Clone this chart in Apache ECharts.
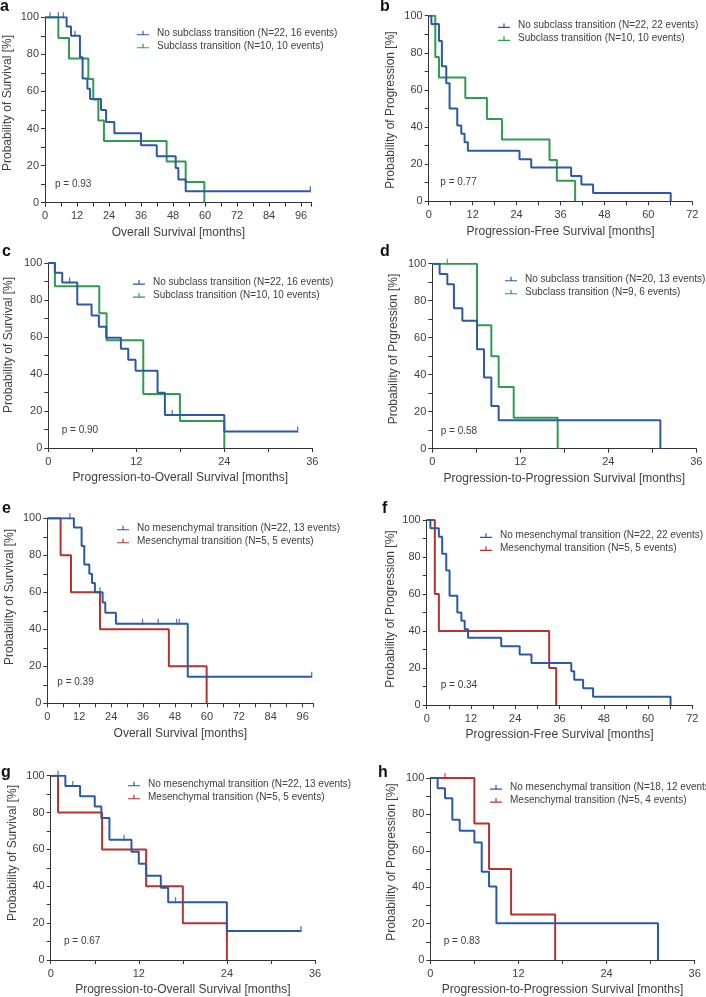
<!DOCTYPE html>
<html><head><meta charset="utf-8">
<script src="https://cdn.jsdelivr.net/npm/echarts@6/dist/echarts.min.js"></script>
<style>html,body{margin:0;padding:0;background:#fff}#c{width:706px;height:997px}</style>
</head><body><div id="c"></div>
<script>
// ---------- data (months, survival %) ----------
// panel a
const aNoT = [0, 8.1, 9.75, 13.1, 14.1, 15.9, 16.9, 21, 22.9, 26, 36, 41.9, 49, 50, 52.75, 99.5];
const aNoS = [100, 95, 90, 78.5, 67, 61.5, 56, 50, 43.5, 37.4, 31, 25, 18.7, 12.5, 6.2, 6.2];
const aNoC = [1.9, 5, 6.9, 11.25, 99.5];
const aSubT = [0, 5, 9, 16.25, 18.1, 20, 22.1, 45.6, 52.75, 59.75];
const aSubS = [100, 88.9, 77.8, 66.7, 55.6, 44.4, 33.3, 22.2, 11.1, 0];
const aSubC = [];
// panel b
const bNoT = [0, 0.73, 2.8, 3.6, 4.8, 5.7, 7.8, 8.9, 9.8, 10.7, 24.8, 28, 38.9, 41.7, 44.9, 66.1];
const bNoS = [100, 95.5, 86.4, 72.7, 63.6, 50, 40.9, 36.4, 31.8, 27.3, 22.7, 18.2, 13.6, 9.1, 4.5, 0];
const bNoC = [];
const bSubT = [0, 1.8, 2.8, 10, 15.9, 20, 33, 35, 40];
const bSubS = [100, 77.8, 66.7, 55.6, 44.4, 33.3, 22.2, 11.1, 0];
const bSubC = [];
// panel c
const cNoT = [0, 0.9, 1.9, 3.95, 5.9, 6.9, 7.9, 9.9, 10.9, 11.9, 14.9, 15.9, 24, 34];
const cNoS = [100, 94.7, 89.5, 77.6, 71.6, 65.6, 59.6, 53.6, 47.7, 41.7, 29.8, 17.9, 8.9, 8.9];
const cNoC = [2.9, 16.9, 34];
const cSubT = [0, 0.9, 6.95, 7.95, 12.95, 17.95, 24];
const cSubS = [100, 87.5, 72.9, 58.3, 29.2, 14.6, 0];
const cSubC = [];
// panel d
const dNoT = [0, 1.0, 2.05, 2.95, 4.1, 6.1, 7.05, 8.05, 9.05, 31.1];
const dNoS = [100, 94.4, 88.9, 75.9, 69.2, 53.8, 38.5, 23.1, 15.4, 0];
const dNoC = [];
const dSubT = [0, 6.1, 8.05, 9.05, 11.1, 17.1];
const dSubS = [100, 66.7, 50, 33.3, 16.7, 0];
const dSubC = [2.05];
// panel e
const eNoT = [0, 10, 12.9, 13.9, 15.8, 16.8, 17.9, 20.8, 21.8, 25.8, 52.8, 99.4];
const eNoS = [100, 95, 85, 75, 70, 65, 60, 54.5, 49, 43, 14.3, 14.3];
const eNoC = [8.5, 19.8, 35.8, 41.7, 48.6, 49.6, 99.4];
const eMesT = [0, 5, 8.9, 19.8, 45.7, 59.9];
const eMesS = [100, 80, 60, 40, 20, 0];
const eMesC = [];
// panel f
const fNoT = [0, 1.0, 3.3, 4.2, 5.3, 6.2, 8.3, 9.4, 10.3, 11.2, 20.2, 25.2, 28.4, 39.2, 40, 42.4, 45.1, 66.1];
const fNoS = [100, 95.5, 90.9, 81.8, 72.7, 59.1, 50, 45.5, 40.9, 36.4, 31.8, 27.3, 22.7, 18.2, 13.6, 9.1, 4.5, 0];
const fNoC = [];
const fMesT = [0, 2.2, 3.3, 33.2, 35.1];
const fMesS = [100, 60, 40, 20, 0];
const fMesC = [];
// panel g
const gNoT = [0, 2.0, 4.0, 6.0, 6.9, 8.0, 11.0, 12.0, 13.0, 15.0, 16.0, 24.0, 34.1];
const gNoS = [100, 94.4, 88.9, 83.3, 77.1, 65.3, 58.7, 52.2, 45.7, 39.2, 31.4, 15.7, 15.7];
const gNoC = [1.0, 3.0, 10.0, 17.0, 34.1];
const gMesT = [0, 1.0, 7.0, 13.0, 18.0, 24.0];
const gMesS = [100, 80, 60, 40, 20, 0];
const gMesC = [];
// panel h
const hNoT = [0, 1, 2, 3, 4, 6, 7, 8, 9, 31];
const hNoS = [100, 94.4, 88.9, 77, 71, 64.6, 48.5, 40.4, 20.2, 0];
const hNoC = [];
const hMesT = [0, 6, 8, 11, 17];
const hMesS = [100, 75, 50, 25, 0];
const hMesC = [2];

// ---------- labels ----------
const panelLetters = ['a','b','c','d','e','f','g','h'];
const xTitles = ['Overall Survival [months]','Progression-Free Survival [months]',
  'Progression-to-Overall Survival [months]','Progression-to-Progression Survival [months]',
  'Overall Survival [months]','Progression-Free Survival [months]',
  'Progression-to-Overall Survival [months]','Progression-to-Progression Survival [months]'];
const yTitles = ['Probability of Survival [%]','Probability of Progression [%]',
  'Probability of Survival [%]','Probability of Prgression [%]',
  'Probability of Survival [%]','Probability of Progression [%]',
  'Probability of Survival [%]','Probability of Progression [%]'];
const pValues = ['0.93','0.77','0.90','0.58','0.39','0.34','0.67','0.83'];
const xMax = [100, 72, 36, 36, 100, 72, 36, 36];
const legendNames = [
  ['No subclass transition (N=22, 16 events)','Subclass transition (N=10, 10 events)'],
  ['No subclass transition (N=22, 22 events)','Subclass transition (N=10, 10 events)'],
  ['No subclass transition (N=22, 16 events)','Subclass transition (N=10, 10 events)'],
  ['No subclass transition (N=20, 13 events)','Subclass transition (N=9, 6 events)'],
  ['No mesenchymal transition (N=22, 13 events)','Mesenchymal transition (N=5, 5 events)'],
  ['No mesenchymal transition (N=22, 22 events)','Mesenchymal transition (N=5, 5 events)'],
  ['No mesenchymal transition (N=22, 13 events)','Mesenchymal transition (N=5, 5 events)'],
  ['No mesenchymal transition (N=18, 12 events)','Mesenchymal transition (N=5, 4 events)']
];

// ---------- layout / style ----------
const BLUE = '#2c59a6', GREEN = '#2f9b4f', RED = '#b3332f';
const FONT = '"Liberation Sans", Arial, Helvetica, sans-serif';
const TXT = '#404040';
const grids = [
  {left:45, top:17.3, width:266.7, height:185.4},
  {left:428.7, top:15.7, width:263.6, height:185.6},
  {left:48.3, top:263, width:264, height:185},
  {left:432.3, top:263.7, width:264, height:185},
  {left:47.3, top:518.3, width:266, height:185},
  {left:426.7, top:520, width:265.6, height:185},
  {left:50.7, top:775.7, width:264.3, height:185},
  {left:430.3, top:778, width:264.4, height:185.3}
];
const legendPos = [[137,28],[498,20.7],[133,277.3],[505,274],[117,523],[480,530.7],[128,779],[490,782.3]];
const yTitlePos = [[8,103],[390.5,110],[8.5,345],[393.5,349],[9.5,597],[390.5,609],[12.5,853],[391.5,862]];
const pPos = [[55,184],[440.3,182.7],[61.7,430.7],[440.7,431.7],[57.3,682.3],[440.7,685],[64,941],[443.7,941]];
const letterPos = [[0,7],[380,7],[2,252],[380,252],[2,509],[382,509],[1,773],[378,773]];

const panels = [
  [[aNoT,aNoS,aNoC,BLUE],[aSubT,aSubS,aSubC,GREEN]],
  [[bNoT,bNoS,bNoC,BLUE],[bSubT,bSubS,bSubC,GREEN]],
  [[cNoT,cNoS,cNoC,BLUE],[cSubT,cSubS,cSubC,GREEN]],
  [[dNoT,dNoS,dNoC,BLUE],[dSubT,dSubS,dSubC,GREEN]],
  [[eNoT,eNoS,eNoC,BLUE],[eMesT,eMesS,eMesC,RED]],
  [[fNoT,fNoS,fNoC,BLUE],[fMesT,fMesS,fMesC,RED]],
  [[gNoT,gNoS,gNoC,BLUE],[gMesT,gMesS,gMesC,RED]],
  [[hNoT,hNoS,hNoC,BLUE],[hMesT,hMesS,hMesC,RED]]
];

function survAt(T, S, t) {
  let v = S[0];
  for (let i = 0; i < T.length; i++) { if (T[i] <= t) v = S[i]; }
  return v;
}

const LEG_ICON = 'path://M0,3.5h12v1.2h-12z M5.4,0h1.2v4h-1.2z';
const TICK_SYM = 'path://M0,0h1v6h-1z';

const option = {
  animation: false,
  backgroundColor: '#fff',
  textStyle: {fontFamily: FONT},
  grid: [], xAxis: [], yAxis: [], series: [], legend: [], graphic: []
};

panels.forEach((pan, k) => {
  option.grid.push(Object.assign({containLabel:false}, grids[k]));
  option.xAxis.push({
    type:'value', gridIndex:k, min:0, max:xMax[k], interval:6,
    name: xTitles[k], nameLocation:'middle', nameGap:24,
    nameTextStyle:{fontSize:12, color:TXT, fontFamily:FONT},
    axisLine:{lineStyle:{color:'#333', width:1}},
    axisTick:{show:true, length:4, lineStyle:{color:'#333', width:1}},
    axisLabel:{fontSize:11, color:TXT, margin:8, fontFamily:FONT,
      formatter: v => (v % 12 === 0 && v <= 96) ? String(v) : ''},
    splitLine:{show:false}
  });
  option.yAxis.push({
    type:'value', gridIndex:k, min:0, max:100, interval:10,
    axisLine:{show:true, lineStyle:{color:'#333', width:1}},
    axisTick:{show:true, length:4, lineStyle:{color:'#333', width:1}},
    axisLabel:{fontSize:11, color:TXT, margin:6, fontFamily:FONT,
      formatter: v => (v % 20 === 0) ? String(v) : ''},
    splitLine:{show:false}
  });
  pan.forEach((s, j) => {
    const [T, S, C, col] = s;
    const name = legendNames[k][j];
    option.series.push({
      type:'line', name: name, xAxisIndex:k, yAxisIndex:k, step:'end',
      data: T.map((t,i)=>[t,S[i]]), showSymbol:false, symbol:'none',
      lineStyle:{color:col, width:2}, itemStyle:{color:col},
      z: 3 + (j===0 ? 1 : 0), silent:true
    });
    if (C.length) {
      option.series.push({
        type:'scatter', name: name, xAxisIndex:k, yAxisIndex:k,
        data: C.map(c=>[c, survAt(T,S,c)]),
        symbol: TICK_SYM, symbolSize:[1.3,6], symbolOffset:[0,-2],
        itemStyle:{color:col}, z:5, silent:true
      });
    }
  });
  option.legend.push({
    left: legendPos[k][0], top: legendPos[k][1], orient:'vertical',
    padding:0, itemGap:3, itemWidth:12, itemHeight:12,
    icon: LEG_ICON, selectedMode:false,
    textStyle:{fontSize:10, color:TXT, fontFamily:FONT, padding:[0,0,0,3]},
    data: legendNames[k].map((n, j) => ({name:n, itemStyle:{color: pan[j][3]}}))
  });
  option.graphic.push({
    type:'text', x: yTitlePos[k][0], y: yTitlePos[k][1], rotation: Math.PI/2,
    style:{text: yTitles[k], fill:TXT, font:'12px ' + FONT, textAlign:'center', textVerticalAlign:'middle'}
  });
  option.graphic.push({
    type:'text', x: pPos[k][0], y: pPos[k][1],
    style:{text: 'p = ' + pValues[k], fill:TXT, font:'10px ' + FONT, textAlign:'left', textVerticalAlign:'middle'}
  });
  option.graphic.push({
    type:'text', x: letterPos[k][0], y: letterPos[k][1],
    style:{text: panelLetters[k], fill:'#111', font:'bold 16px ' + FONT, textAlign:'left', textVerticalAlign:'middle'}
  });
});

const chart = echarts.init(document.getElementById('c'), null, {renderer:'canvas'});
chart.setOption(option);
</script></body></html>
